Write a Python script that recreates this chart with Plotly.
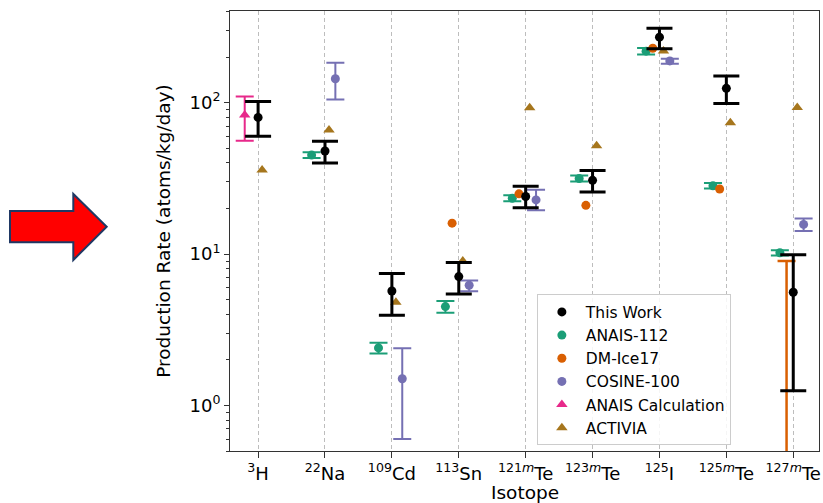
import plotly.graph_objects as go

W, H = 823, 503
ML, MR, MT, MB = 230, 4, 11, 52

categories = ["<sup>3</sup>H", "<sup>22</sup>Na", "<sup>109</sup>Cd", "<sup>113</sup>Sn",
              "<sup>121<i>m</i></sup>Te", "<sup>123<i>m</i></sup>Te", "<sup>125</sup>I",
              "<sup>125<i>m</i></sup>Te", "<sup>127<i>m</i></sup>Te"]

# This Work
tw_val = [80, 48, 5.7, 7.1, 24.0, 30.7, 271, 124.5, 5.6]
tw_up = [22, 7.6, 1.75, 1.7, 4.1, 5.0, 39, 25.5, 4.3]
tw_dn = [20, 8.1, 1.75, 1.65, 3.8, 5.0, 44, 25.5, 4.35]

# ANAIS-112
an_val = [None, 45.1, 2.4, 4.5, 23.4, 31.6, 219, 28.3, 10.2]
an_err = [None, 1.9, 0.2, 0.4, 1.1, 1.4, 11, 1.2, 0.4]

# DM-Ice17 (point values; the 127mTe entry is an upper range only)
dm_val = [None, None, None, 16.0, 25.0, 21.0, 229, 26.9, None]
dm_lim_val = [None, None, None, None, None, None, None, None, 0.1]
dm_lim_up = [None, None, None, None, None, None, None, None, 8.9]
dm_lim_dn = [None, None, None, None, None, None, None, None, 0.09]

# COSINE-100
co_val = [None, 144, 1.5, 6.22, 22.8, None, 189, None, 15.7]
co_up = [None, 40, 0.89, 0.46, 3.8, None, 6, None, 1.5]
co_dn = [None, 39, 0.9, 0.53, 3.3, None, 8, None, 1.5]

# ANAIS Calculation
ac_val = [83, None, None, None, None, None, None, None, None]
ac_up = [27, None, None, None, None, None, None, None, None]
ac_dn = [27, None, None, None, None, None, None, None, None]

# ACTIVIA
av_val = [36, 66, 4.8, 9.0, 92.6, 52, 220, 73.8, 93]

colors = {"tw": "black", "an": "#1b9e77", "dm": "#d95f02", "co": "#7570b3",
          "ac": "#e7298a", "av": "#a6761d"}
offsets = {"tw": 0.0, "an": -0.2, "dm": -0.1, "co": 0.155, "ac": -0.2, "av": 0.06}

idx = list(range(len(categories)))

def xs(key, vals):
    return [i + offsets[key] for i, v in zip(idx, vals)]

fig = go.Figure()

def add(key, name, vals, up=None, dn=None, symbol="circle", size=9, rank=1, ew=2, cap=9,
        showlegend=True):
    err = None
    if up is not None:
        err = dict(type="data", symmetric=False, array=up, arrayminus=dn,
                   color=colors[key], thickness=ew, width=cap)
    fig.add_trace(go.Scatter(
        x=xs(key, vals), y=vals, mode="markers", name=name, showlegend=showlegend,
        marker=dict(color=colors[key], size=size, symbol=symbol, line=dict(width=0)),
        error_y=err, legendrank=rank, cliponaxis=True))

add("an", "ANAIS-112", an_val, an_err, an_err, rank=2)
add("dm", "DM-Ice17", dm_val, rank=3)
add("dm", "DM-Ice17 limit", dm_lim_val, dm_lim_up, dm_lim_dn, rank=3, ew=2.5,
    showlegend=False)
add("co", "COSINE-100", co_val, co_up, co_dn, rank=4)
add("ac", "ANAIS Calculation", ac_val, ac_up, ac_dn, symbol="triangle-up", size=10, rank=5)
add("av", "ACTIVIA", av_val, symbol="triangle-up", size=10, rank=6)
add("tw", "This Work", tw_val, tw_up, tw_dn, rank=1, ew=3, cap=13)

# red arrow decoration (pixel outline converted to paper coords)
arrow_px = [(10, 211), (73.3, 211), (73.3, 194), (106.7, 226.7), (73.3, 260),
            (73.3, 242.3), (10, 242.3)]
pw, ph = W - ML - MR, H - MT - MB
def to_paper(px, py):
    return (px - ML) / pw, (H - MB - py) / ph
pts = [to_paper(px, py) for px, py in arrow_px]
path = "M " + " L ".join(f"{x:.5f},{y:.5f}" for x, y in pts) + " Z"
fig.add_shape(type="path", path=path, xref="paper", yref="paper",
              fillcolor="#ff0000", line=dict(color="#1f3864", width=2), layer="above")

# x-axis title placed as an annotation near the bottom edge, as in the reference
fig.add_annotation(text="Isotope", xref="paper", yref="paper", x=0.5,
                   y=to_paper(0, 492)[1], xanchor="center", yanchor="middle",
                   showarrow=False, font=dict(size=18.5, family="DejaVu Sans"))

minor_vals = [v * m for m in (0.1, 1, 10, 100) for v in range(2, 10) if 0.5 <= v * m <= 400]

fig.update_layout(
    width=W, height=H, margin=dict(l=ML, r=MR, t=MT, b=MB, autoexpand=False),
    paper_bgcolor="white", plot_bgcolor="white",
    font=dict(family="DejaVu Sans", size=16, color="black"),
    showlegend=True,
    legend=dict(x=0.521, y=0.356, xanchor="left", yanchor="top",
                bgcolor="rgba(255,255,255,0.85)", bordercolor="#cccccc", borderwidth=1,
                itemwidth=38,
                font=dict(size=15.5, family="DejaVu Sans")),
    xaxis=dict(range=[-0.42, 8.385], tickmode="array", tickvals=idx, ticktext=categories,
               automargin=False,
               showgrid=True, gridcolor="#bdbdbd", griddash="4px,3px", gridwidth=1,
               zeroline=False, showline=True, linecolor="#333333", linewidth=1, mirror=True,
               ticks="outside", ticklen=6, tickcolor="#333333",
               tickfont=dict(size=18)),
    yaxis=dict(type="log", range=[-0.301, 2.606], tickmode="array",
               automargin=False,
               tickvals=[1, 10, 100],
               ticktext=["10<sup>0</sup>", "10<sup>1</sup>", "10<sup>2</sup>"],
               showgrid=False, zeroline=False, showline=True, linecolor="#333333",
               linewidth=1, mirror=True, ticks="outside", ticklen=5, tickcolor="#333333",
               tickfont=dict(size=18),
               minor=dict(tickmode="array", tickvals=minor_vals, ticks="outside",
                          ticklen=3, tickcolor="#333333", showgrid=False),
               title=dict(text="Production Rate (atoms/kg/day)", font=dict(size=18.5),
                          standoff=14)),
)

fig.write_html("out.html")
